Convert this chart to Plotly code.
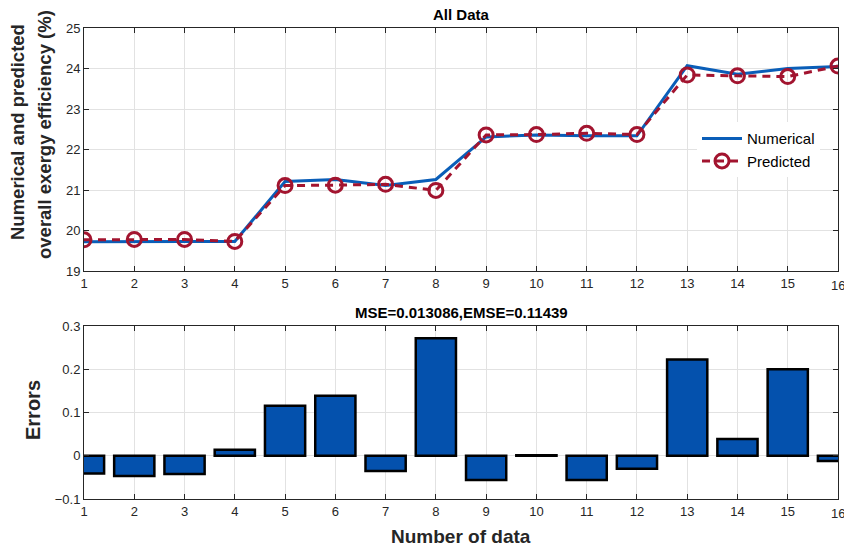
import plotly.graph_objects as go

samples = list(range(1, 17))
numerical = [19.72, 19.73, 19.73, 19.73, 21.21, 21.26, 21.11, 21.26,
             22.31, 22.36, 22.34, 22.34, 24.07, 23.86, 24.00, 24.05]
predicted = [19.77, 19.78, 19.78, 19.73, 21.11, 21.12, 21.14, 20.99,
             22.36, 22.37, 22.40, 22.37, 23.84, 23.82, 23.80, 24.06]
errors = [-0.041, -0.047, -0.042, 0.014, 0.116, 0.139, -0.035, 0.272,
          -0.056, 0.001, -0.056, -0.030, 0.223, 0.039, 0.200, -0.012]
x_ticks = list(range(1, 17))
top_y_ticks = [19, 20, 21, 22, 23, 24, 25]
bottom_y_ticks = [-0.1, 0, 0.1, 0.2, 0.3]

BLUE = "#0A5EB8"
RED = "#A2142F"
BAR = "#0451AD"
AX = "#262626"
GRID = "#e2e2e2"
FONT = "Liberation Sans, Arial, sans-serif"

fig = go.Figure()
fig.add_trace(go.Scatter(x=samples, y=numerical, mode="lines", name="Numerical",
                         line=dict(color=BLUE, width=3), xaxis="x", yaxis="y"))
fig.add_trace(go.Scatter(x=samples, y=predicted, mode="lines+markers", name="Predicted",
                         line=dict(color=RED, width=3, dash="8px,6px"),
                         marker=dict(symbol="circle-open", size=14, color=RED,
                                     line=dict(width=3, color=RED)),
                         xaxis="x", yaxis="y"))
fig.add_trace(go.Bar(x=samples, y=errors, width=0.8, showlegend=False,
                     marker=dict(color=BAR, line=dict(color="#000000", width=2.5)),
                     xaxis="x2", yaxis="y2"))

axis_common = dict(showline=True, linecolor=AX, linewidth=1, mirror="ticks",
                   ticks="inside", ticklen=5, tickcolor=AX, showgrid=True,
                   gridcolor=GRID, gridwidth=1, zeroline=False,
                   tickfont=dict(family=FONT, size=13, color=AX))

fig.update_layout(
    width=844, height=547,
    margin=dict(l=84, r=6, t=28, b=48),
    paper_bgcolor="white", plot_bgcolor="white",
    font=dict(family=FONT, color="#000"),
    xaxis=dict(domain=[0, 1], anchor="y", range=[1, 16], tickvals=x_ticks, **axis_common),
    yaxis=dict(domain=[0.484, 1], anchor="x", range=[19, 25], tickvals=top_y_ticks, **axis_common),
    xaxis2=dict(domain=[0, 1], anchor="y2", range=[1, 16], tickvals=x_ticks, **axis_common),
    yaxis2=dict(domain=[0, 0.367], anchor="x2", range=[-0.1, 0.3], tickvals=bottom_y_ticks,
                tickformat="~g", **axis_common),
    legend=dict(x=0.813, y=0.80, xanchor="left", yanchor="top",
                bgcolor="white", borderwidth=0,
                font=dict(family=FONT, size=15, color="#000"),
                itemwidth=40, tracegroupgap=0),
    bargap=0.2,
    showlegend=True,
)

last_tick = x_ticks[-1]
annotations = [
    dict(text="<b>All Data</b>", x=0.5, y=1.0, xref="paper", yref="paper",
         xanchor="center", yanchor="bottom", yshift=3, showarrow=False,
         font=dict(family=FONT, size=15, color="#000")),
    dict(text="<b>MSE=0.013086,EMSE=0.11439</b>", x=0.5, y=0.367, xref="paper", yref="paper",
         xanchor="center", yanchor="bottom", yshift=3, showarrow=False,
         font=dict(family=FONT, size=15, color="#000")),
    dict(text="<b>Numerical and predicted</b>",
         x=(18 - 84) / 754, y=(499 - 132) / 471, xref="paper", yref="paper", textangle=-90,
         xanchor="center", yanchor="middle", showarrow=False,
         font=dict(family=FONT, size=18.5, color=AX)),
    dict(text="<b>overall exergy efficiency (%)</b>",
         x=(45 - 84) / 754, y=(499 - 135) / 471, xref="paper", yref="paper", textangle=-90,
         xanchor="center", yanchor="middle", showarrow=False,
         font=dict(family=FONT, size=18.5, color=AX)),
    dict(text="<b>Errors</b>", x=(33 - 84) / 754, y=(499 - 410) / 471, xref="paper", yref="paper",
         textangle=-90, xanchor="center", yanchor="middle", showarrow=False,
         font=dict(family=FONT, size=20, color=AX)),
    dict(text="<b>Number of data</b>", x=0.5, y=-(536 - 499) / 471, xref="paper", yref="paper",
         xanchor="center", yanchor="middle", showarrow=False,
         font=dict(family=FONT, size=19, color=AX)),
    # last x tick label (would be dropped by plotly as it overflows the page edge)
    dict(text=str(last_tick), x=last_tick, y=19, xref="x", yref="y",
         xanchor="center", yanchor="top", yshift=-5, showarrow=False,
         font=dict(family=FONT, size=13, color=AX)),
    dict(text=str(last_tick), x=last_tick, y=-0.1, xref="x2", yref="y2",
         xanchor="center", yanchor="top", yshift=-5, showarrow=False,
         font=dict(family=FONT, size=13, color=AX)),
]
fig.update_layout(annotations=annotations)

fig.write_html("out.html")
